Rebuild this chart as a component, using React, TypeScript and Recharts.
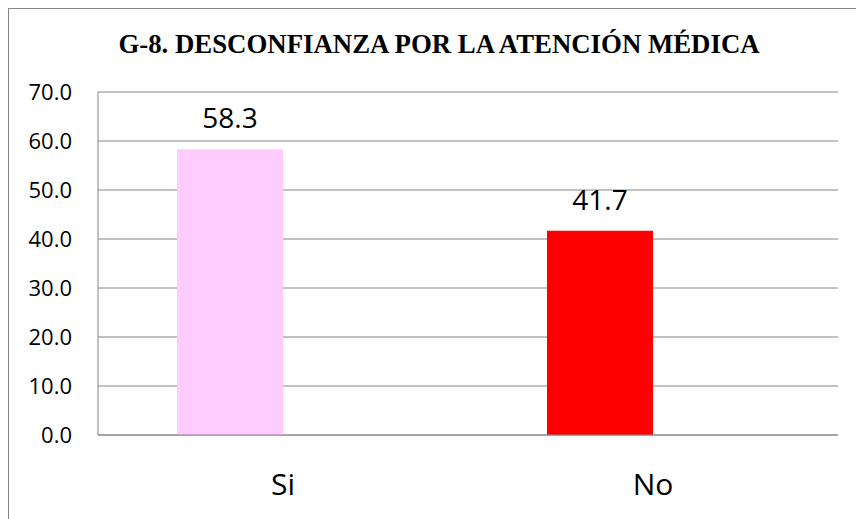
import { Bar, BarChart, CartesianGrid, Cell, LabelList, XAxis, YAxis } from 'recharts';

const CATEGORIES = ['Si', 'No'];
const PERCENTS = [58.3, 41.7];
const BAR_COLORS = ['#FFCCFF', '#FF0000'];
const Y_TICKS = [0, 10, 20, 30, 40, 50, 60, 70];

const TITLE = 'G-8. DESCONFIANZA POR LA ATENCIÓN MÉDICA';
const GRID = '#868686';

// Excel clustered chart with an empty second series: the bar sits left of the category centre
const data = CATEGORIES.map((name, i) => ({ name, value: PERCENTS[i], empty: null }));

export default function App() {
  return (
    <div
      style={{
        position: 'fixed',
        left: 8,
        top: 8,
        width: 860,
        height: 520,
        borderTop: `1px solid ${GRID}`,
        borderLeft: `1px solid ${GRID}`,
        background: '#fff',
      }}
    >
      <div
        style={{
          position: 'absolute',
          left: 30,
          top: 22,
          width: 800,
          textAlign: 'center',
          fontFamily: '"Liberation Serif", "Times New Roman", serif',
          fontWeight: 'bold',
          fontSize: 26.8,
          lineHeight: 1,
          color: '#000',
          whiteSpace: 'nowrap',
        }}
      >
        {TITLE}
      </div>
      <BarChart
        width={847}
        height={510}
        data={data}
        margin={{ top: 83, right: 18, bottom: 0, left: 0 }}
        barGap={0}
        barSize={106}
      >
        <CartesianGrid vertical={false} stroke={GRID} />
        <XAxis
          dataKey="name"
          height={84}
          axisLine={{ stroke: GRID }}
          tickLine={false}
          tickSize={0}
          tickMargin={39}
          tick={{ fill: '#000', fontSize: 30, fontFamily: '"Open Sans", sans-serif' }}
        />
        <YAxis
          width={89}
          domain={[0, 70]}
          ticks={Y_TICKS}
          interval={0}
          axisLine={{ stroke: GRID }}
          tickLine={false}
          tickSize={0}
          tickMargin={26}
          tickFormatter={(v: number) => v.toFixed(1)}
          tick={{ fill: '#000', fontSize: 22, fontFamily: '"Open Sans", sans-serif' }}
        />
        <Bar dataKey="value" isAnimationActive={false}>
          {data.map((d, i) => (
            <Cell key={d.name} fill={BAR_COLORS[i]} />
          ))}
          <LabelList
            dataKey="value"
            position="top"
            offset={21}
            formatter={(v: number) => v.toFixed(1)}
            style={{ fill: '#000', fontSize: 28, fontFamily: '"Open Sans", sans-serif' }}
          />
        </Bar>
        <Bar dataKey="empty" isAnimationActive={false} />
      </BarChart>
    </div>
  );
}
